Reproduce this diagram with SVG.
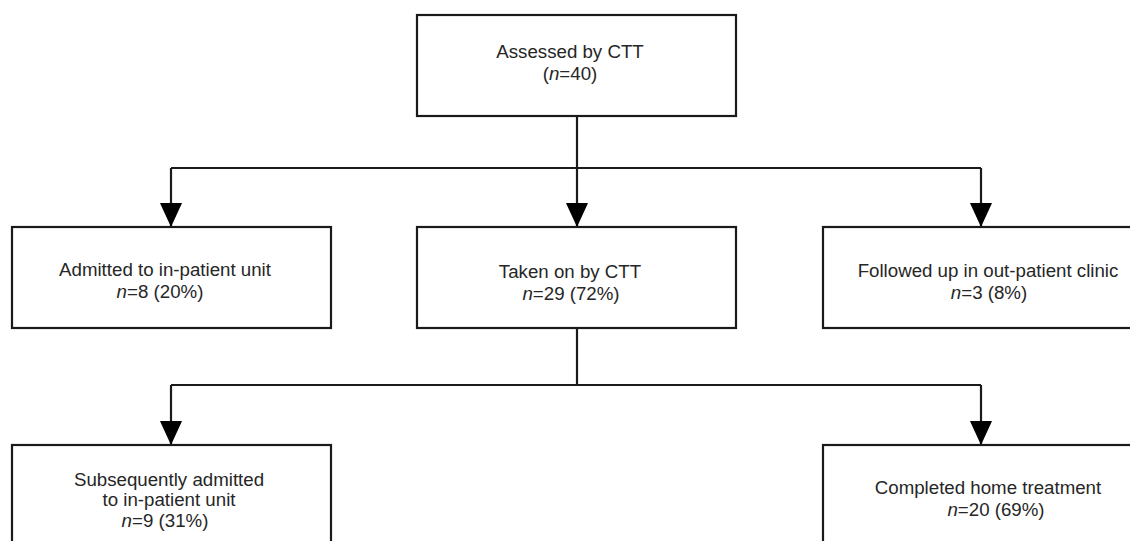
<svg xmlns="http://www.w3.org/2000/svg" width="1130" height="541" viewBox="0 0 1130 541">
<style>
.box{fill:#fff;stroke:#1a1a1a;stroke-width:2.2}
.ln{fill:none;stroke:#1a1a1a;stroke-width:2.2}
text{font-family:"Liberation Sans",Arial,sans-serif;font-size:18.7px;fill:#262626;text-anchor:middle}
.i{font-style:italic}
</style>
<defs>
<marker id="ah" markerUnits="userSpaceOnUse" markerWidth="24" markerHeight="24" refX="25" refY="11.5" orient="auto" viewBox="0 0 25 23">
<path d="M0,0 L25,11.5 L0,23 z" fill="#000"/>
</marker>
</defs>
<rect width="1130" height="541" fill="#fff"/>
<g id="connectors">
<line class="ln" x1="577" y1="116" x2="577" y2="168"/>
<line class="ln" x1="171" y1="168" x2="981" y2="168"/>
<line class="ln" x1="171" y1="168" x2="171" y2="227" marker-end="url(#ah)"/>
<line class="ln" x1="577" y1="168" x2="577" y2="227" marker-end="url(#ah)"/>
<line class="ln" x1="981" y1="168" x2="981" y2="227" marker-end="url(#ah)"/>
<line class="ln" x1="577" y1="328" x2="577" y2="385"/>
<line class="ln" x1="171" y1="385" x2="981" y2="385"/>
<line class="ln" x1="171" y1="385" x2="171" y2="445" marker-end="url(#ah)"/>
<line class="ln" x1="981" y1="385" x2="981" y2="445" marker-end="url(#ah)"/>
</g>
<g id="assessed">
<rect class="box" x="417" y="15" width="319" height="101"/>
<text x="570" y="58">Assessed by CTT</text>
<text x="570" y="80">(<tspan class="i">n</tspan>=40)</text>
</g>
<g id="admitted">
<rect class="box" x="12" y="227" width="319" height="101"/>
<text x="165" y="276">Admitted to in-patient unit</text>
<text x="160" y="298"><tspan class="i">n</tspan>=8 (20%)</text>
</g>
<g id="taken">
<rect class="box" x="417" y="227" width="319" height="101"/>
<text x="570" y="278">Taken on by CTT</text>
<text x="571" y="300"><tspan class="i">n</tspan>=29 (72%)</text>
</g>
<g id="followed">
<rect class="box" x="823" y="227" width="330" height="101"/>
<text x="988" y="277">Followed up in out-patient clinic</text>
<text x="989" y="299"><tspan class="i">n</tspan>=3 (8%)</text>
</g>
<g id="subsequently">
<rect class="box" x="12" y="445" width="319" height="120"/>
<text x="169" y="486">Subsequently admitted</text>
<text x="169" y="506">to in-patient unit</text>
<text x="165" y="527"><tspan class="i">n</tspan>=9 (31%)</text>
</g>
<g id="completed">
<rect class="box" x="823" y="445" width="330" height="120"/>
<text x="988" y="494">Completed home treatment</text>
<text x="996" y="516"><tspan class="i">n</tspan>=20 (69%)</text>
</g>
</svg>
